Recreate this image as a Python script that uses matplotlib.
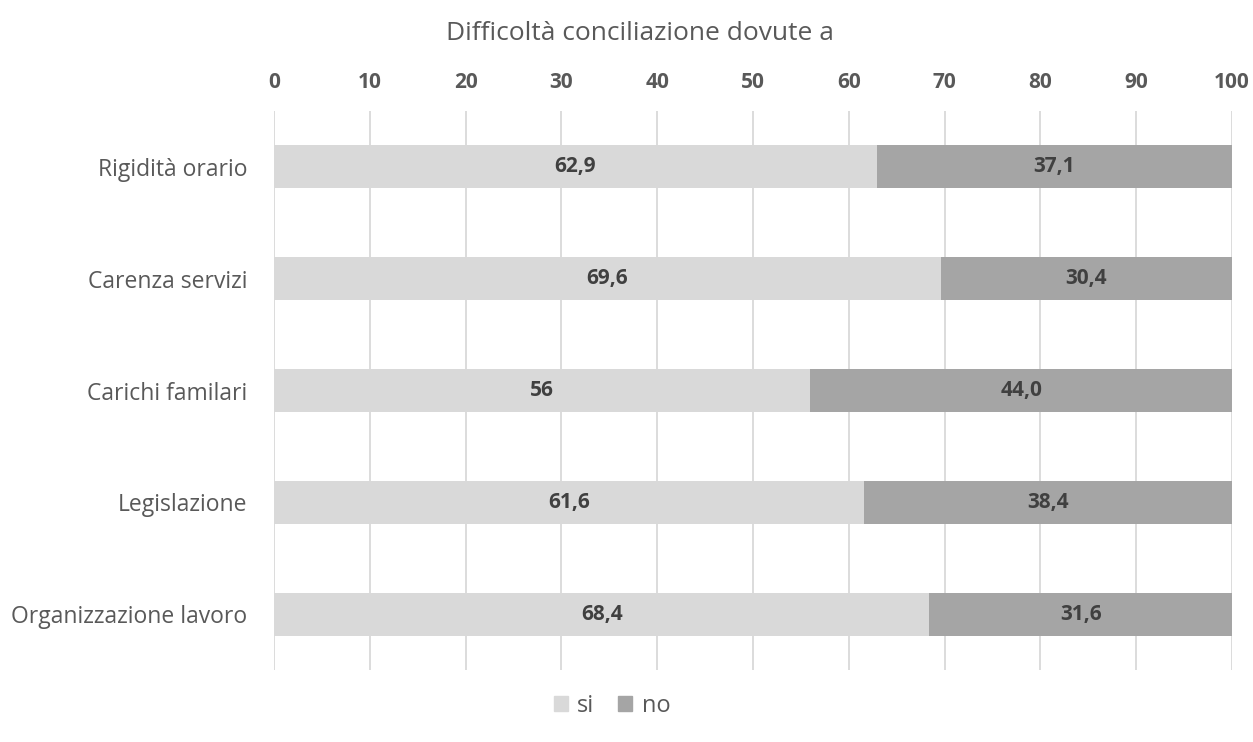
import matplotlib
matplotlib.use("Agg")
import matplotlib.pyplot as plt
from matplotlib.patches import Patch

categories = ["Rigidità orario", "Carenza servizi", "Carichi familari", "Legislazione", "Organizzazione lavoro"]
si_values = [62.9, 69.6, 56.0, 61.6, 68.4]
no_values = [37.1, 30.4, 44.0, 38.4, 31.6]
si_labels = ["62,9", "69,6", "56", "61,6", "68,4"]
no_labels = ["37,1", "30,4", "44,0", "38,4", "31,6"]
xticks = [0, 10, 20, 30, 40, 50, 60, 70, 80, 90, 100]

plt.rcParams['font.family'] = ['Open Sans', 'DejaVu Sans']
txt = '#595959'

W, H = 1253, 742
fig = plt.figure(figsize=(W/100, H/100), dpi=100)
ax = fig.add_axes([274/W, 1-670/H, (1232-274)/W, (670-111)/H])

y = list(range(len(categories)))
c_si = '#d9d9d9'
c_no = '#a5a5a5'
h = 0.385
ax.barh(y, si_values, height=h, color=c_si, zorder=2)
ax.barh(y, no_values, left=si_values, height=h, color=c_no, zorder=2)
for i in y:
    ax.text(si_values[i]/2, i, si_labels[i], ha='center', va='center', fontsize=15, fontweight='bold', color='#404040', zorder=3)
    ax.text(si_values[i] + no_values[i]/2, i, no_labels[i], ha='center', va='center', fontsize=15, fontweight='bold', color='#404040', zorder=3)

ax.set_ylim(len(categories)-0.5, -0.5)
ax.set_xlim(0, 100)
ax.set_yticks(y)
ax.set_yticklabels(categories, fontsize=16.5, color=txt)
ax.set_xticks(xticks)
ax.set_xticklabels([str(t) for t in xticks], fontsize=15, fontweight='bold', color=txt)
ax.xaxis.tick_top()
ax.tick_params(axis='both', length=0)
ax.tick_params(axis='x', pad=13)
ax.tick_params(axis='y', pad=19)
ax.grid(axis='x', color='#d9d9d9', linewidth=1.3, zorder=0)
for s in ax.spines.values():
    s.set_visible(False)

fig.text(640/W, 1-33/H, "Difficoltà conciliazione dovute a", ha='center', va='center', fontsize=19, color=txt)

handles = [Patch(color=c_si, label='si'), Patch(color=c_no, label='no')]
fig.legend(handles=handles, loc='center', bbox_to_anchor=(612/W, 1-706/H), ncol=2, frameon=False,
           fontsize=17, labelcolor=txt, handlelength=0.6, handleheight=0.6, handletextpad=0.4, columnspacing=1.0)

fig.savefig("out.png", dpi=100)
